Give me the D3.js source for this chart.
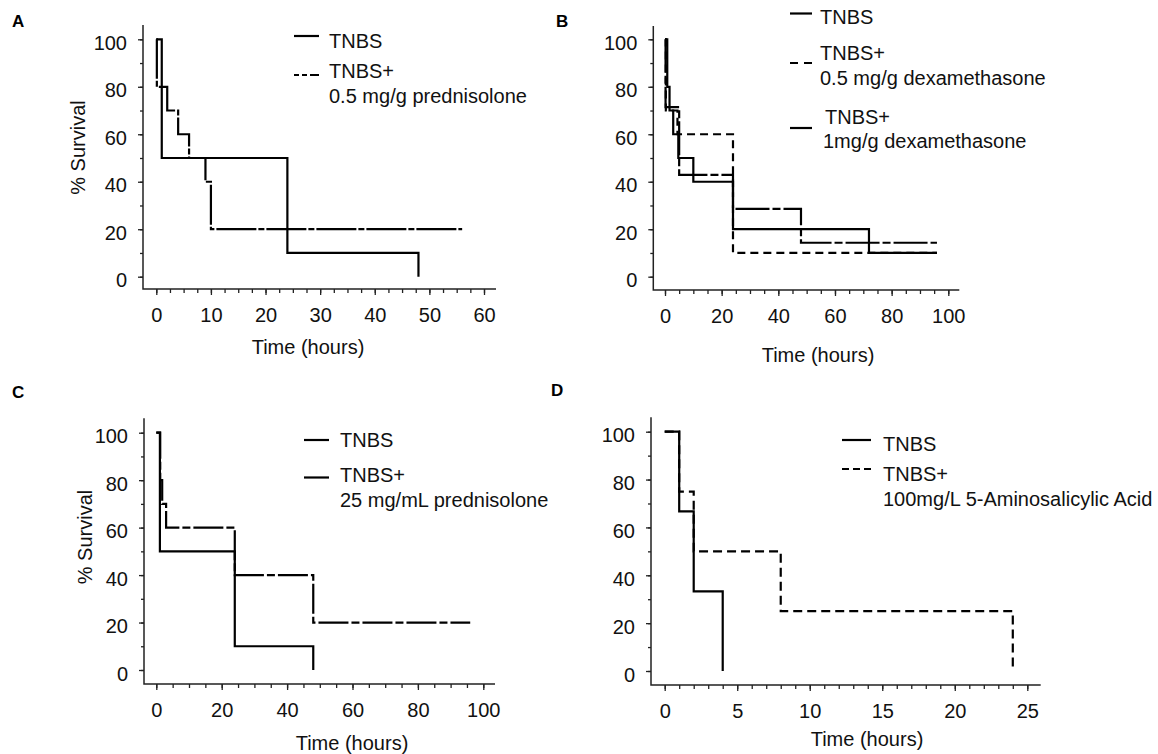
<!DOCTYPE html>
<html>
<head>
<meta charset="utf-8">
<script src="https://cdn.jsdelivr.net/npm/d3@7"></script>
<style>
  body { margin: 0; background: #fff; }
  svg { font-family: "Liberation Sans", Arial, Helvetica, sans-serif; }
</style>
</head>
<body>
<svg id="chart" width="1158" height="754"></svg>
<script>
// survival curves: step times (hours) and % survival from that time on
const tA_tnbs = [0, 1, 24, 48];
const sA_tnbs = [100, 50, 10, 0];
const tA_pred = [0, 0.1, 2, 4, 6, 9, 10, 56];
const sA_pred = [100, 80, 70, 60, 50, 40, 20, 20];

const tB_tnbs = [0, 0.8, 1.6, 2.9, 4.7, 10, 24, 72, 96];
const sB_tnbs = [100, 80, 70, 60, 50, 40, 20, 10, 10];
const tB_dex05 = [0, 0.3, 4.4, 24, 96];
const sB_dex05 = [100, 70, 60, 10, 10];
const tB_dex1 = [0, 0.2, 5, 24, 48, 96];
const sB_dex1 = [100, 71.4, 42.9, 28.6, 14.3, 14.3];

const tC_tnbs = [0, 1.1, 24, 48];
const sC_tnbs = [100, 50, 10, 0];
const tC_pred = [0, 1.2, 1.8, 3, 24, 48, 96];
const sC_pred = [100, 80, 70, 60, 40, 20, 20];

const tD_tnbs = [0, 1, 2, 4];
const sD_tnbs = [100, 66.7, 33.3, 0];
const tD_asa = [0, 1, 2, 8, 24];
const sD_asa = [100, 75, 50, 25, 0];

const yTicks = [0, 20, 40, 60, 80, 100];
const xTicksA = [0, 10, 20, 30, 40, 50, 60];
const xTicksB = [0, 20, 40, 60, 80, 100];
const xTicksD = [0, 5, 10, 15, 20, 25];

const legendA = [["TNBS"], ["TNBS+", "0.5 mg/g prednisolone"]];
const legendB = [["TNBS"], ["TNBS+", "0.5 mg/g dexamethasone"], ["TNBS+", "1mg/g dexamethasone"]];
const legendC = [["TNBS"], ["TNBS+", "25 mg/mL prednisolone"]];
const legendD = [["TNBS"], ["TNBS+", "100mg/L 5-Aminosalicylic Acid"]];

// layout of the four panels
const panels = [
  { letter: "A", lx: 12, ly: 27, ax: 143, top: 25, ay: 289, right: 496,
    xr: [156.3, 484], xMax: 60, xTicks: xTicksA, xMinor: 2.5, yr: [276.7, 39.3],
    xTitle: [308, 354], yTitle: [78, 147.5],
    series: [[tA_tnbs, sA_tnbs, null], [tA_pred, sA_pred, "40,2,6,2"]],
    legend: legendA,
    leg: [{ x0: 294, x1: 319, ly: 36, tx: 329, ty: 48, dash: null },
          { x0: 294, x1: 319, ly: 75, tx: 329, ty: 78, dash: "5,3,5,3,30" }] },
  { letter: "B", lx: 556, ly: 27, ax: 653.3, top: 26, ay: 290, right: 959.3,
    xr: [665, 948.3], xMax: 100, xTicks: xTicksB, xMinor: 5, yr: [276.7, 39.3],
    xTitle: [818, 362], yTitle: null,
    series: [[tB_tnbs, sB_tnbs, null], [tB_dex05, sB_dex05, "8,5"], [tB_dex1, sB_dex1, "34,3,8,3"]],
    legend: legendB,
    leg: [{ x0: 790, x1: 812, ly: 13.5, tx: 820, ty: 24, dash: null },
          { x0: 790, x1: 812, ly: 63, tx: 820, ty: 60, dash: "8,6" },
          { x0: 790, x1: 812, ly: 128, tx: 825, ty: 123.5, dash: null, tx2: 823 }] },
  { letter: "C", lx: 12, ly: 398, ax: 144, top: 418.3, ay: 684, right: 495,
    xr: [156.3, 483.3], xMax: 100, xTicks: xTicksB, xMinor: 5, yr: [670, 432.7],
    xTitle: [352, 750], yTitle: [85, 537],
    series: [[tC_tnbs, sC_tnbs, null], [tC_pred, sC_pred, "30,3,8,3"]],
    legend: legendC,
    leg: [{ x0: 304, x1: 329, ly: 440, tx: 340, ty: 447, dash: null },
          { x0: 304, x1: 329, ly: 477.5, tx: 340, ty: 482, dash: null }] },
  { letter: "D", lx: 551, ly: 396, ax: 651, top: 417.3, ay: 685, right: 1040.7,
    xr: [664.7, 1027.3], xMax: 25, xTicks: xTicksD, xMinor: 1, yr: [671, 431.7],
    xTitle: [867, 746], yTitle: null,
    series: [[tD_tnbs, sD_tnbs, null], [tD_asa, sD_asa, "9,5"]],
    legend: legendD,
    leg: [{ x0: 842, x1: 871, ly: 440, tx: 883, ty: 451, dash: null },
          { x0: 842, x1: 871, ly: 469, tx: 883, ty: 481, dash: "7,4" }] }
];

const FS = 20;
const svg = d3.select("#chart");

panels.forEach(p => {
  const g = svg.append("g");
  const x = d3.scaleLinear().domain([0, p.xMax]).range(p.xr);
  const y = d3.scaleLinear().domain([0, 100]).range(p.yr);

  g.append("text").attr("x", p.lx).attr("y", p.ly)
    .attr("font-size", 17).attr("font-weight", "bold").text(p.letter);

  // minor ticks
  g.append("g").attr("transform", `translate(0,${p.ay})`)
    .call(d3.axisBottom(x).tickValues(d3.range(0, p.xMax + 0.001, p.xMinor))
      .tickSize(4).tickSizeOuter(0).tickFormat(""))
    .call(a => a.select(".domain").remove());
  g.append("g").attr("transform", `translate(${p.ax},0)`)
    .call(d3.axisLeft(y).tickValues(d3.range(0, 101, 10))
      .tickSize(3).tickSizeOuter(0).tickFormat(""))
    .call(a => a.select(".domain").remove());

  // major ticks + labels
  const xa = g.append("g").attr("transform", `translate(0,${p.ay})`)
    .call(d3.axisBottom(x).tickValues(p.xTicks).tickSize(6).tickPadding(13).tickSizeOuter(0))
    .call(a => a.select(".domain").remove());
  const ya = g.append("g").attr("transform", `translate(${p.ax},0)`)
    .call(d3.axisLeft(y).tickValues(yTicks).tickSize(5).tickPadding(11).tickSizeOuter(0))
    .call(a => a.select(".domain").remove());
  ya.selectAll("text").attr("dy", "0.5em");
  [xa, ya].forEach(a => {
    a.attr("font-size", FS).attr("font-family", null);
    a.selectAll("text").attr("fill", "#111");
  });
  g.selectAll(".tick line").attr("stroke", "#222").attr("stroke-width", 1.3);

  // axis lines
  g.append("path")
    .attr("d", `M${p.ax},${p.top}V${p.ay}H${p.right}`)
    .attr("fill", "none").attr("stroke", "#222").attr("stroke-width", 1.5);

  g.append("text").attr("x", p.xTitle[0]).attr("y", p.xTitle[1])
    .attr("text-anchor", "middle").attr("font-size", FS).attr("fill", "#111")
    .text("Time (hours)");
  if (p.yTitle) {
    g.append("text")
      .attr("transform", `translate(${p.yTitle[0]},${p.yTitle[1]}) rotate(-90)`)
      .attr("text-anchor", "middle").attr("dy", "0.35em")
      .attr("font-size", FS).attr("fill", "#111").text("% Survival");
  }

  const line = d3.line().x(d => x(d[0])).y(d => y(d[1])).curve(d3.curveStepAfter);
  p.series.forEach(([t, s, dash]) => {
    g.append("path").datum(d3.zip(t, s))
      .attr("d", line)
      .attr("fill", "none").attr("stroke", "#000").attr("stroke-width", 2.2)
      .attr("stroke-dasharray", dash);
  });

  // legend
  p.legend.forEach((lines, i) => {
    const L = p.leg[i];
    g.append("line").attr("x1", L.x0).attr("x2", L.x1).attr("y1", L.ly).attr("y2", L.ly)
      .attr("stroke", "#000").attr("stroke-width", 2.2).attr("stroke-dasharray", L.dash);
    lines.forEach((txt, j) => {
      g.append("text").attr("x", j > 0 && L.tx2 ? L.tx2 : L.tx).attr("y", L.ty + j * 24.5)
        .attr("font-size", FS).attr("fill", "#111").text(txt);
    });
  });
});
</script>
</body>
</html>
